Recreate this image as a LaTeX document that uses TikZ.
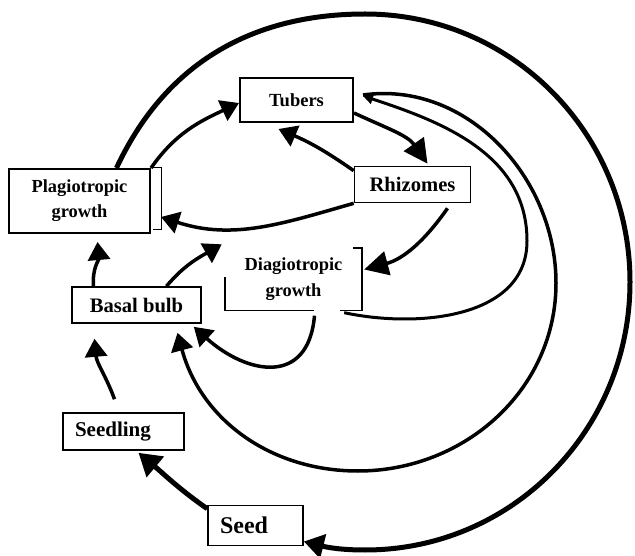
\documentclass[tikz,border=0pt]{standalone}
\usepackage{fontspec}
\setmainfont{Liberation Serif}
\usetikzlibrary{arrows.meta}

\tikzset{
    stage/.style={draw, line width=1.6pt, inner sep=0pt, align=center},
    flow/.style={line width=3.5pt, -{Triangle[length=18pt,width=22pt]}},
    bigflow/.style={line width=3.5pt, -{Triangle[length=24pt,width=24pt]}},
    smallflow/.style={line width=3pt, -{Triangle[length=10pt,width=10pt]}},
}

\begin{document}
\begin{tikzpicture}[x=1pt, y=1pt]
    \useasboundingbox (0,0) rectangle (635,555);

    \node[stage, line width=2pt, minimum width=141pt, minimum height=64pt,
          font=\fontsize{18.4}{25}\selectfont\bfseries] (plagio) at (79.5,354) {Plagiotropic\\growth};
    \node[stage, line width=2pt, minimum width=113pt, minimum height=44pt,
          font=\fontsize{18.5}{20}\selectfont\bfseries] (tubers) at (296.5,455) {Tubers};
    \node[stage, minimum width=116pt, minimum height=36pt,
          font=\fontsize{20.6}{22}\selectfont\bfseries] (rhizomes) at (412.5,370.5) {Rhizomes};
    \node[inner sep=0pt, align=center, minimum width=137pt, minimum height=62pt,
          font=\fontsize{18.4}{26}\selectfont\bfseries] (diagio) at (293.5,275.5) {Diagiotropic\\growth};
    \node[stage, minimum width=129pt, minimum height=36pt,
          font=\fontsize{20.6}{22}\selectfont\bfseries] (basal) at (136.5,250) {Basal bulb};
    \node[stage, inner xsep=12pt, text width=97pt, align=left, minimum height=37pt,
          font=\fontsize{21}{23}\selectfont\bfseries] (seedling) at (123.5,123.5) {Seedling};
    \node[stage, inner xsep=12pt, text width=71pt, align=left, minimum height=40pt,
          font=\fontsize{24}{26}\selectfont\bfseries] (seed) at (255.5,29.5) {Seed};

    % open borders
    \draw[line width=1pt] ([xshift=2pt]plagio.north east) -- ++(8,0) -- ++(0,-62) -- ++(-8,0);
    \draw[line width=1.6pt] ([xshift=-9pt]diagio.north east) -- (diagio.north east)
        -- (diagio.south east) -- ([xshift=-22pt]diagio.south east);
    \draw[line width=1.6pt] ([xshift=-48pt]diagio.south east) -- (diagio.south west)
        -- ([yshift=-29pt]diagio.north west);

    % outer ring back to the seed
    \draw[line width=5pt, -{Triangle[length=20pt,width=24pt]}] ([xshift=37pt]plagio.north)
        to[out=65,in=180] (365,541) to[out=0,in=90] (630,273)
        to[out=-90,in=0] (365,5) to[out=180,in=-14] ([yshift=-16pt]seed.east);

    \draw[flow] (plagio.north east) to[out=55,in=205] ([yshift=-3pt]tubers.west);
    \draw[bigflow] ([yshift=-13pt]tubers.east) to[out=-25,in=125] ([xshift=15pt,yshift=2pt]rhizomes.north);
    \draw[flow] ([yshift=-5pt]rhizomes.north west) to[bend right=6] ([xshift=-18pt,yshift=-6pt]tubers.south);
    \draw[flow] (rhizomes.south west) to[out=196,in=-18] ([xshift=10pt,yshift=-16pt]plagio.east);
    \draw[bigflow] ([xshift=35pt,yshift=-5pt]rhizomes.south) to[out=235,in=15] ([xshift=2pt,yshift=10pt]diagio.east);
    \draw[flow] ([xshift=30pt]basal.north) to[out=50,in=210] ([xshift=-3pt,yshift=4pt]diagio.north west);
    \draw[flow] ([xshift=-43pt]basal.north) to[out=95,in=-85] ([xshift=18pt,yshift=-8pt]plagio.south);
    \draw[flow] ([xshift=-9pt,yshift=13pt]seedling.north) to[out=110,in=-85] ([xshift=-42pt,yshift=-15pt]basal.south);
    \draw[line width=5pt, -{Triangle[length=22pt,width=26pt]}] ([yshift=-4pt]seed.north west)
        to[out=145,in=-40] ([xshift=15pt,yshift=-2pt]seedling.south);
    \draw[flow] ([xshift=21pt,yshift=-5pt]diagio.south) to[out=-95,in=-42,looseness=1.5]
        ([xshift=-8pt,yshift=-3pt]basal.south east);

    % loops into the tubers
    \draw[smallflow] ([xshift=-18pt,yshift=-2pt]diagio.south east) to[out=-12,in=-90] (527,314)
        to[out=90,in=-18] ([xshift=9pt,yshift=4pt]tubers.east);
    \draw[flow] ([xshift=9pt,yshift=5pt]tubers.east) to[out=8,in=90] (556,272)
        to[out=-90,in=0] (358,84) to[out=180,in=-75] ([xshift=41pt,yshift=-9pt]basal.south);
\end{tikzpicture}
\end{document}
